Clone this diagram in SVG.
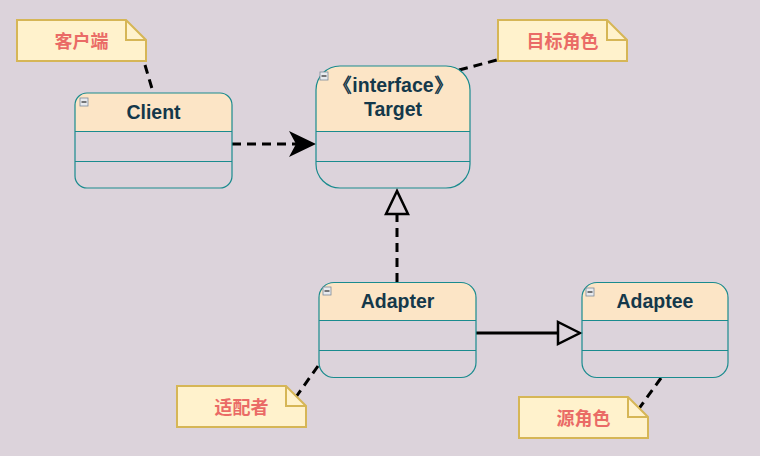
<svg xmlns="http://www.w3.org/2000/svg" width="760" height="456" viewBox="0 0 760 456">
<style>
.hdr{fill:#fce5c6;stroke:none}
.box{fill:none;stroke:#1a8b8e;stroke-width:1.2}
.sep{stroke:#1a8b8e;stroke-width:1.2}
.title{font-family:"Liberation Sans",Arial,sans-serif;font-weight:bold;font-size:19.5px;fill:#14384a;text-anchor:middle}
.note{fill:#fff2cc;stroke:#d6b656;stroke-width:2}
.fold{fill:none;stroke:#d6b656;stroke-width:2}
.ntxt{font-family:"Noto Sans CJK SC","Noto Sans",sans-serif;font-weight:bold;font-size:18px;fill:#ea6b66;text-anchor:middle}
.dash{fill:none;stroke:#000;stroke-width:3;stroke-dasharray:9,6}
.solid{fill:none;stroke:#000;stroke-width:3}
.tri{fill:#dcd3db;stroke:#000;stroke-width:2.5}
.icon{fill:#e8eaee;stroke:#7a8a9a;stroke-width:0.8}
</style>
<rect width="760" height="456" fill="#dcd3db"/>
<g id="connectors">
<path class="dash" d="M145,65 L153,92"/>
<path class="dash" d="M459,70 L497,60"/>
<path class="dash" d="M318,366 L296,397"/>
<path class="dash" d="M661,378 L638,410"/>
<path class="dash" d="M232,144 H296"/>
<polygon points="316,144 289,131 296,144 289,157" fill="#000"/>
<path class="dash" d="M397,282 V214"/>
<polygon class="tri" points="397,191 386,214 408,214"/>
<path class="solid" d="M476,333 H558"/>
<polygon class="tri" points="580,333 558,322 558,344"/>
</g>
<g id="client">
<path class="hdr" d="M75,131.5 V105 A12,12 0 0 1 87,93 H220 A12,12 0 0 1 232,105 V131.5 Z"/>
<rect class="box" x="75" y="93" width="157" height="95" rx="12"/>
<line class="sep" x1="75" y1="131.5" x2="232" y2="131.5"/>
<line class="sep" x1="75" y1="161.5" x2="232" y2="161.5"/>
<rect class="icon" x="80" y="98" width="8" height="8"/><line x1="81.5" y1="102" x2="86.5" y2="102" stroke="#000" stroke-width="1"/>
<text class="title" x="153.5" y="119">Client</text>
</g>
<g id="target">
<path class="hdr" d="M316,131.5 V90 A24,24 0 0 1 340,66 H446 A24,24 0 0 1 470,90 V131.5 Z"/>
<rect class="box" x="316" y="66" width="154" height="122" rx="24"/>
<line class="sep" x1="316" y1="131.5" x2="470" y2="131.5"/>
<line class="sep" x1="316" y1="161.5" x2="470" y2="161.5"/>
<rect class="icon" x="320" y="72" width="8" height="8"/><line x1="321.5" y1="76" x2="326.5" y2="76" stroke="#000" stroke-width="1"/>
<text class="title" x="393" y="92">《interface》</text>
<text class="title" x="393" y="116">Target</text>
</g>
<g id="adapter">
<path class="hdr" d="M319,320.5 V297.5 A15,15 0 0 1 334,282.5 H461 A15,15 0 0 1 476,297.5 V320.5 Z"/>
<rect class="box" x="319" y="282.5" width="157" height="95" rx="15"/>
<line class="sep" x1="319" y1="320.5" x2="476" y2="320.5"/>
<line class="sep" x1="319" y1="350.5" x2="476" y2="350.5"/>
<rect class="icon" x="323" y="287" width="8" height="8"/><line x1="324.5" y1="291" x2="329.5" y2="291" stroke="#000" stroke-width="1"/>
<text class="title" x="397.5" y="308">Adapter</text>
</g>
<g id="adaptee">
<path class="hdr" d="M582,320.5 V297.5 A15,15 0 0 1 597,282.5 H713 A15,15 0 0 1 728,297.5 V320.5 Z"/>
<rect class="box" x="582" y="282.5" width="146" height="95" rx="15"/>
<line class="sep" x1="582" y1="320.5" x2="728" y2="320.5"/>
<line class="sep" x1="582" y1="350.5" x2="728" y2="350.5"/>
<rect class="icon" x="586" y="288" width="8" height="8"/><line x1="587.5" y1="292" x2="592.5" y2="292" stroke="#000" stroke-width="1"/>
<text class="title" x="655" y="308">Adaptee</text>
</g>
<g id="note-client">
<path class="note" d="M17,20 H126 L146,40 V61 H17 Z"/>
<path class="fold" d="M126,20 V40 H146"/>
<text class="ntxt" x="81.5" y="47.5">客户端</text>
</g>
<g id="note-target">
<path class="note" d="M498,20 H607 L627,40 V61 H498 Z"/>
<path class="fold" d="M607,20 V40 H627"/>
<text class="ntxt" x="562.5" y="47.5">目标角色</text>
</g>
<g id="note-adapter">
<path class="note" d="M177,386 H286 L306,406 V427 H177 Z"/>
<path class="fold" d="M286,386 V406 H306"/>
<text class="ntxt" x="241.5" y="413.5">适配者</text>
</g>
<g id="note-adaptee">
<path class="note" d="M519,397 H628 L648,417 V438 H519 Z"/>
<path class="fold" d="M628,397 V417 H648"/>
<text class="ntxt" x="583.5" y="424.5">源角色</text>
</g>
</svg>
